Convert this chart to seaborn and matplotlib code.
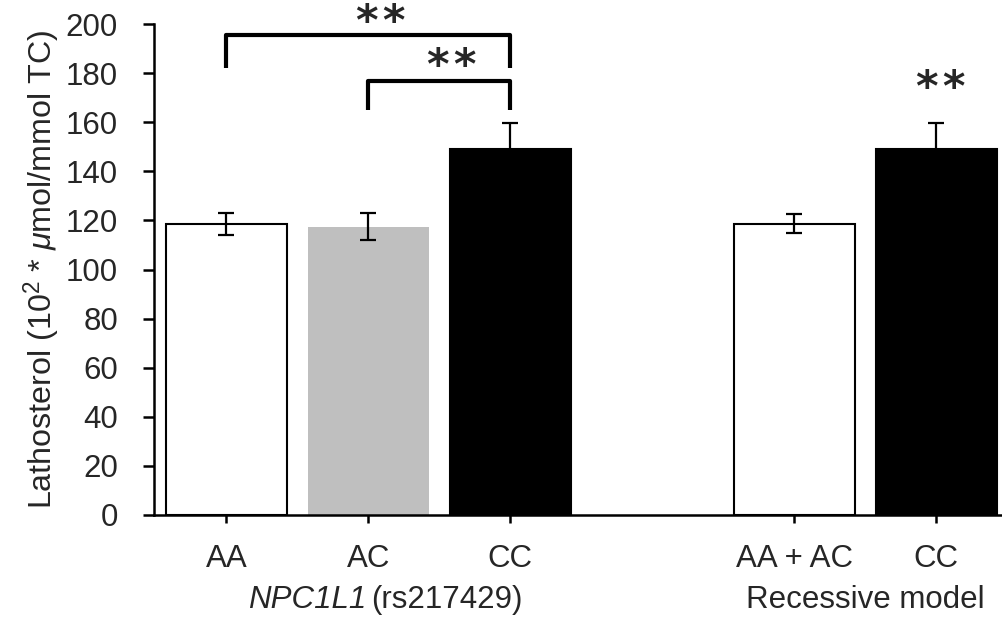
import matplotlib
matplotlib.use('Agg')
import matplotlib.pyplot as plt
import matplotlib.transforms as mtransforms
import seaborn as sns
import pandas as pd

# ---- data ----
keys = ['AA', 'AC', 'CC', 'AA+AC', 'CC_rec']
order = ['AA', 'AC', 'CC', 'gap', 'AA+AC', 'CC_rec']
tick_labels = ['AA', 'AC', 'CC', 'AA + AC', 'CC']
values = [118.5, 117.5, 149.0, 118.7, 149.0]
errors = [4.6, 5.4, 10.7, 4.0, 10.6]
bar_colors = ['#ffffff', '#bfbfbf', '#000000', '#ffffff', '#000000']
gene_name = 'NPC1L1'
snp_name = '(rs217429)'
model_title = 'Recessive model'
y_label = r'Lathosterol (10$^2$ * $\mathit{\mu}$mol/mmol TC)'
sig_pairs = [('AA', 'CC', 182.2, 195.5, 200.6), ('AC', 'CC', 165.0, 176.8, 182.5)]
sig_single = [('CC_rec', 173.7)]
sig_text = '*\u200a*'

sns.set_style('ticks')
plt.rcParams['font.family'] = ['Liberation Sans', 'DejaVu Sans']
plt.rcParams['mathtext.fontset'] = 'custom'
plt.rcParams['mathtext.rm'] = 'Liberation Sans'
plt.rcParams['mathtext.it'] = 'Liberation Sans:italic'
plt.rcParams['mathtext.bf'] = 'Liberation Sans:bold'

FS = 22.5

df = pd.DataFrame({'key': keys, 'value': values})
palette = dict(zip(keys, bar_colors))

fig = plt.figure(figsize=(10.03, 6.26), dpi=100)
ax = fig.add_axes([154 / 1003, 1 - 515 / 626, 1 - 154 / 1003, (515 - 24) / 626])

sns.barplot(data=df, x='key', y='value', order=order, hue='key', palette=palette,
            width=0.85, edgecolor='black', linewidth=1.5, errorbar=None,
            legend=False, saturation=1, ax=ax)

for p in ax.patches:
    fc = p.get_facecolor()
    if abs(fc[0] - 0.75) < 0.05:
        p.set_edgecolor(fc)
        p.set_linewidth(0)

xpos = [order.index(k) for k in keys]
ax.errorbar(xpos, values, yerr=errors, fmt='none', ecolor='black',
            elinewidth=1.6, capsize=6, capthick=1.6, zorder=5)

ax.set_xlim(-0.51, 5.47)
ax.set_ylim(0, 200)
ax.set_yticks(range(0, 201, 20))
ax.set_xticks(xpos)
ax.set_xticklabels(tick_labels)
ax.tick_params(axis='y', labelsize=FS, length=8, width=1.8, pad=18, color='black')
ax.tick_params(axis='x', labelsize=FS, length=6, width=1.8, pad=15, color='black')
ax.set_xlabel('')
ax.set_ylabel(y_label, fontsize=23.2, labelpad=2)
for s in ['top', 'right']:
    ax.spines[s].set_visible(False)
for s in ['left', 'bottom']:
    ax.spines[s].set_linewidth(1.8)
    ax.spines[s].set_color('black')

# group titles
trans = mtransforms.blended_transform_factory(ax.transData, ax.transAxes)
ax.text(0.985, -0.173, gene_name, transform=trans, ha='right', va='center',
        fontsize=FS, fontstyle='italic')
ax.text(1.02, -0.173, snp_name, transform=trans, ha='left', va='center', fontsize=FS)
ax.text(4.5, -0.173, model_title, transform=trans, ha='center', va='center', fontsize=FS)

# significance brackets
for a, b, ylo, yhi, ystar in sig_pairs:
    x0, x1 = order.index(a), order.index(b)
    ax.plot([x0, x0, x1, x1], [ylo, yhi, yhi, ylo], color='black', lw=3,
            solid_joinstyle='round', solid_capstyle='butt', clip_on=False, zorder=6)
    ax.text((x0 + x1) / 2 + 0.09, ystar, sig_text, ha='center', va='center',
            fontsize=31, family='DejaVu Sans', fontweight='bold', clip_on=False)
for k, ystar in sig_single:
    ax.text(order.index(k) + 0.03, ystar, sig_text, ha='center', va='center',
            fontsize=31, family='DejaVu Sans', fontweight='bold', clip_on=False)

fig.savefig('out.png', dpi=100)
